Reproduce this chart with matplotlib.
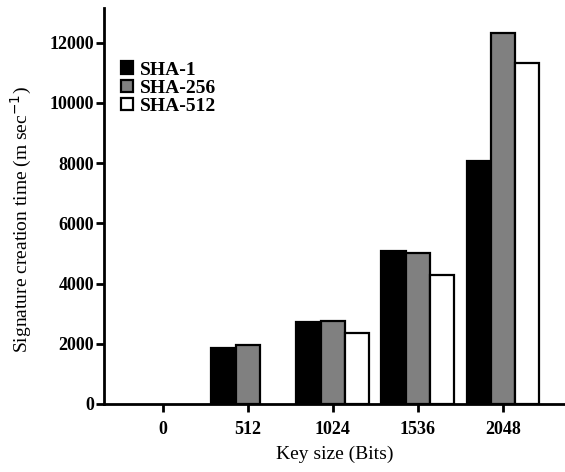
import matplotlib
matplotlib.use("Agg")
import matplotlib.pyplot as plt
from matplotlib.patches import Patch
import numpy as np

categories = ["0", "512", "1024", "1536", "2048"]
sha1 = [0, 1850, 2710, 5090, 8070]
sha256 = [0, 1970, 2770, 5030, 12310]
sha512 = [0, 0, 2370, 4300, 11340]
series_names = ["SHA-1", "SHA-256", "SHA-512"]
colors = ["#000000", "#808080", "#ffffff"]
yticks = [0, 2000, 4000, 6000, 8000, 10000, 12000]

plt.rcParams['font.family'] = ['Liberation Serif', 'DejaVu Serif']

fig = plt.figure(figsize=(5.65, 4.72), dpi=100)
ax = fig.add_axes([104/565, 1-404/472, 1-104/565, (404-8)/472])

x = np.arange(len(categories))
w = 0.285
handles = []
for i, (vals, name, c) in enumerate(zip([sha1, sha256, sha512], series_names, colors)):
    lws = [1.6 if v > 0 else 0 for v in vals]
    ax.bar(x + (i-1)*w, vals, w, color=c, edgecolor='black', linewidth=lws)
    handles.append(Patch(facecolor=c, edgecolor='black', linewidth=1.6, label=name))

ax.set_xlim(-0.69, 4.73)
ax.set_ylim(0, 13150)
ax.set_xticks(x)
ax.set_xticklabels(categories, fontsize=13, fontweight='bold')
ax.set_yticks(yticks)
ax.set_yticklabels([str(v) for v in yticks], fontsize=13, fontweight='bold')
ax.spines['top'].set_visible(False)
ax.spines['right'].set_visible(False)
for s in ['left', 'bottom']:
    ax.spines[s].set_linewidth(2)
ax.tick_params(direction='out', length=6, width=2)
ax.tick_params(axis='x', pad=6)
ax.tick_params(axis='y', pad=1)
ax.set_xlabel("Key size (Bits)", fontsize=14, labelpad=6)
ax.set_ylabel("Signature creation time (m sec$^{-1}$)", fontsize=14, labelpad=11)
ax.yaxis.label.set_y(0.465)

leg = ax.legend(handles=handles, loc='upper left', bbox_to_anchor=(0.037, 0.865), frameon=False,
                prop={'family': 'Liberation Serif', 'weight': 'bold', 'size': 14},
                handlelength=0.62, handleheight=0.62, handletextpad=0.36, labelspacing=0.05,
                borderaxespad=0, borderpad=0)

fig.savefig("out.png", dpi=100)
